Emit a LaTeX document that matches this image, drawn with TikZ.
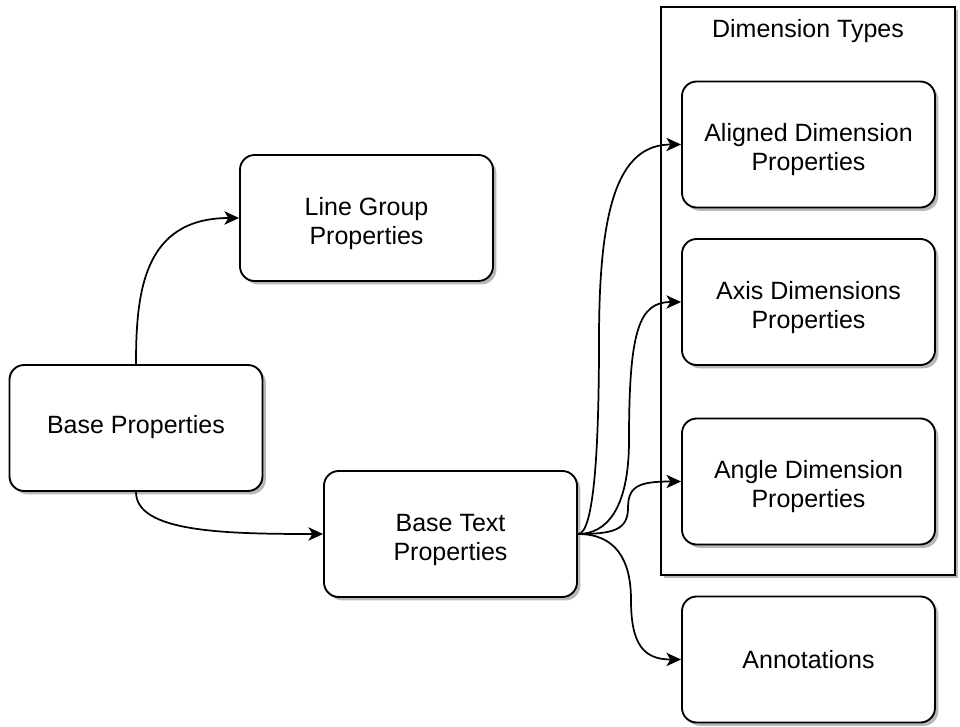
\documentclass[tikz,border=0pt]{standalone}
\usepackage{fontspec}
\setmainfont{Liberation Sans}
\usetikzlibrary{arrows.meta, shadows}

\begin{document}
\begin{tikzpicture}[x=0.75pt, y=-0.75pt, >={Stealth[length=11pt, width=10pt, inset=3pt]},
  font=\fontsize{18.75pt}{21.75pt}\selectfont,
  shade/.style={drop shadow={shadow xshift=2.5pt, shadow yshift=-2.5pt, fill=black!28, opacity=1}},
  prop/.style={draw, line width=1.4pt, rounded corners=11pt, fill=white, shade,
    minimum width=189.75pt, minimum height=94.5pt, inner sep=0pt, align=center},
  pair/.style={prop, text height=43pt},
  group/.style={draw, line width=1.4pt, fill=white, shade,
    minimum width=220.5pt, minimum height=426pt, inner sep=0pt},
  link/.style={->, line width=1.3pt}]
  \useasboundingbox (0,0) rectangle (960,727);

  % container for the dimension types
  \node[group] (dimtypes) at (808,291) {};
  \node (dimlabel) at (808,31) {Dimension Types};

  % property boxes
  \node[prop] (base) at (136,428) {\strut Base Properties};
  \node[pair] (lgp) at (366.5,218) {Line Group\\Properties};
  \node[pair] (btp) at (450.5,534) {Base Text\\Properties};
  \node[pair] (adp) at (808.5,144.5) {Aligned Dimension\\Properties};
  \node[pair] (axp) at (808.5,302) {Axis Dimensions\\Properties};
  \node[pair] (anp) at (808.5,481.5) {Angle Dimension\\Properties};
  \node[prop] (ann) at (808.5,659.5) {Annotations};

  % bend points of the fan
  \coordinate (w1) at (599,340);
  \coordinate (w2) at (629,440);
  \coordinate (w3) at (628,508);
  \coordinate (w4) at (631,600);

  % inheritance links
  \draw[link] (base.north) .. controls +(0,-71) and +(-96,0) .. (lgp.west);
  \draw[link] (base.south) .. controls +(0,40) and +(-100,0) .. (btp.west);
  \draw[link] (btp.east) .. controls +(15,0) and +(0,120) .. (w1) .. controls +(0,-130) and +(-64,0) .. (adp.west);
  \draw[link] (btp.east) .. controls +(28,0) and +(0,70) .. (w2) .. controls +(0,-110) and +(-42,0) .. (axp.west);
  \draw[link] (btp.east) .. controls +(35,0) and +(0,22) .. (w3) .. controls +(0,-22) and +(-42,0) .. (anp.west);
  \draw[link] (btp.east) .. controls +(38,0) and +(0,-40) .. (w4) .. controls +(0,45) and +(-37,0) .. (ann.west);
\end{tikzpicture}
\end{document}
